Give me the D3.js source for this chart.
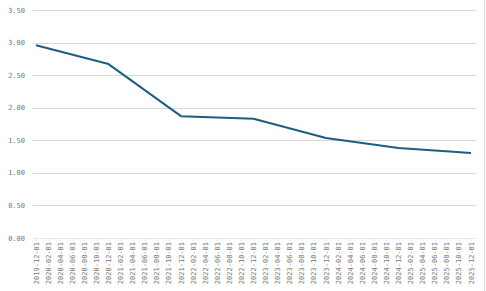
<!DOCTYPE html>
<html><head><meta charset="utf-8">
<script src="https://cdn.jsdelivr.net/npm/d3@7"></script>
<style>body{margin:0;background:#fff}</style>
</head><body>
<svg id="c" width="486" height="291"></svg>
<script>
const xLabels = ["2019-12-01","2020-02-01","2020-04-01","2020-06-01","2020-08-01","2020-10-01","2020-12-01",
"2021-02-01","2021-04-01","2021-06-01","2021-08-01","2021-10-01","2021-12-01",
"2022-02-01","2022-04-01","2022-06-01","2022-08-01","2022-10-01","2022-12-01",
"2023-02-01","2023-04-01","2023-06-01","2023-08-01","2023-10-01","2023-12-01",
"2024-02-01","2024-04-01","2024-06-01","2024-08-01","2024-10-01","2024-12-01",
"2025-02-01","2025-04-01","2025-06-01","2025-08-01","2025-10-01","2025-12-01"];
const pointDates = ["2019-12-01","2020-12-01","2021-12-01","2022-12-01","2023-12-01","2024-12-01","2025-12-01"];
const pointValues = [2.96, 2.67, 1.87, 1.83, 1.535, 1.38, 1.305];
const yTicks = [0,0.5,1,1.5,2,2.5,3,3.5];

(function(){
const svg = d3.select("#c");
const mL = 33, mR = 476, mT = 10, mB = 238;
const x = d3.scalePoint().domain(xLabels).range([36, 471]);
const y = d3.scaleLinear().domain([0,3.5]).range([mB, mT]);

// faint right-edge rule
svg.append("line").attr("x1",484.5).attr("x2",484.5).attr("y1",0).attr("y2",291)
  .attr("stroke","#dcdcdc");

svg.append("g").selectAll("line").data(yTicks).join("line")
  .attr("x1",mL).attr("x2",mR)
  .attr("y1",d=>Math.round(y(d))+0.5).attr("y2",d=>Math.round(y(d))+0.5)
  .attr("stroke",d=>d===0?"#e8e8e8":"#d9d9d9").attr("stroke-width",1);

svg.append("g").selectAll("text").data(yTicks).join("text")
  .attr("x",25).attr("y",d=>y(d)+2.5)
  .attr("text-anchor","end")
  .attr("font-family","'DejaVu Sans Mono', monospace").attr("font-size",7)
  .attr("fill","#7a7a7a").text(d=>d.toFixed(2));

const xa = svg.append("g");
xa.selectAll("line").data(xLabels).join("line")
  .attr("x1",d=>Math.round(x(d))+0.5).attr("x2",d=>Math.round(x(d))+0.5)
  .attr("y1",mB).attr("y2",mB+3).attr("stroke","#e8e8e8");
xa.selectAll("text").data(xLabels).join("text")
  .attr("transform",d=>`translate(${x(d)+2.5},${mB+4}) rotate(-90)`)
  .attr("text-anchor","end")
  .attr("font-family","'DejaVu Sans Mono', monospace").attr("font-size",7)
  .attr("fill","#7a7a7a").text(d=>d);

const data = pointDates.map((d,i)=>({d, v: pointValues[i]}));
svg.append("path").datum(data)
  .attr("fill","none").attr("stroke","#1b5e82").attr("stroke-width",2)
  .attr("stroke-linejoin","round")
  .attr("d", d3.line().x(p=>x(p.d)).y(p=>y(p.v)));
})();
</script>
</body></html>
